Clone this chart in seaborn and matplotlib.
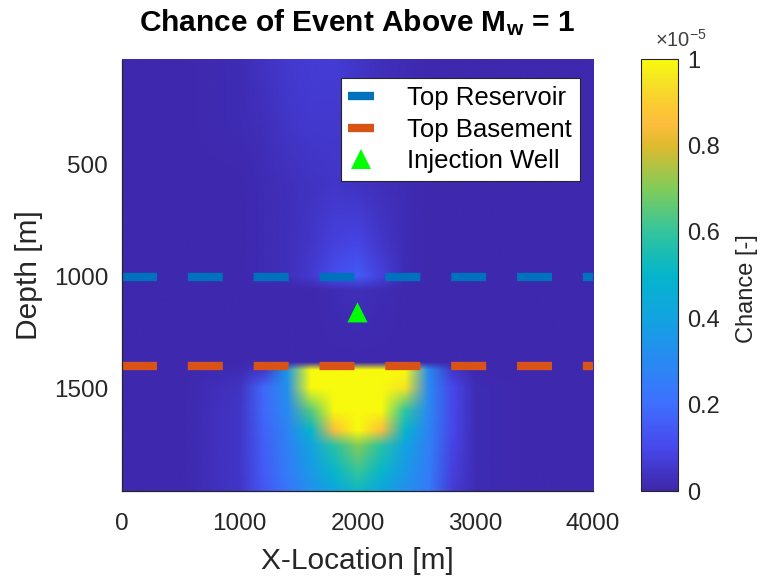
import numpy as np
import pandas as pd
import matplotlib
matplotlib.use("Agg")
import matplotlib.pyplot as plt
from matplotlib.colors import LinearSegmentedColormap, Normalize
from matplotlib.image import NonUniformImage
from matplotlib.lines import Line2D
import seaborn as sns

# sample locations of the chance field
x_m = [0, 500, 1000, 1200, 1400, 1600, 1800, 2000, 2200, 2400, 2600, 2800, 3000, 3500, 4000]
depth_m = [30, 300, 600, 850, 1000, 1060, 1385, 1420, 1500, 1600, 1690, 1760, 1880, 1960]

# chance of an event above Mw = 1, in units of 1e-5 (one row per depth)
chance_e5 = [
    [0.01, 0.01, 0.02, 0.04, 0.06, 0.07, 0.07, 0.05, 0.03, 0.02, 0.01, 0.01, 0.01, 0.01, 0.01],
    [0.01, 0.01, 0.02, 0.03, 0.05, 0.06, 0.06, 0.05, 0.03, 0.02, 0.01, 0.01, 0.01, 0.01, 0.01],
    [0.01, 0.01, 0.01, 0.02, 0.03, 0.04, 0.05, 0.04, 0.03, 0.02, 0.01, 0.01, 0.01, 0.01, 0.01],
    [0.01, 0.01, 0.01, 0.02, 0.03, 0.05, 0.08, 0.09, 0.05, 0.02, 0.01, 0.01, 0.01, 0.01, 0.01],
    [0.01, 0.01, 0.01, 0.02, 0.03, 0.06, 0.12, 0.15, 0.08, 0.02, 0.01, 0.01, 0.01, 0.01, 0.01],
    [0.01, 0.01, 0.01, 0.01, 0.01, 0.01, 0.02, 0.03, 0.02, 0.01, 0.01, 0.01, 0.01, 0.01, 0.01],
    [0.01, 0.01, 0.01, 0.01, 0.01, 0.01, 0.01, 0.01, 0.01, 0.01, 0.01, 0.01, 0.01, 0.01, 0.01],
    [0.01, 0.01, 0.02, 0.05, 0.35, 1.25, 1.40, 1.40, 1.40, 1.10, 0.30, 0.05, 0.01, 0.01, 0.01],
    [0.01, 0.01, 0.04, 0.18, 0.33, 1.05, 1.40, 1.40, 1.40, 0.95, 0.30, 0.10, 0.02, 0.01, 0.01],
    [0.01, 0.01, 0.05, 0.18, 0.30, 0.65, 1.25, 1.40, 1.25, 0.60, 0.30, 0.10, 0.02, 0.01, 0.01],
    [0.01, 0.01, 0.05, 0.17, 0.28, 0.50, 0.85, 1.05, 0.85, 0.50, 0.28, 0.10, 0.02, 0.01, 0.01],
    [0.01, 0.01, 0.05, 0.16, 0.27, 0.40, 0.58, 0.70, 0.58, 0.40, 0.27, 0.09, 0.02, 0.01, 0.01],
    [0.01, 0.01, 0.05, 0.15, 0.25, 0.36, 0.50, 0.60, 0.50, 0.36, 0.25, 0.08, 0.02, 0.01, 0.01],
    [0.01, 0.01, 0.05, 0.14, 0.22, 0.33, 0.42, 0.52, 0.42, 0.33, 0.24, 0.07, 0.02, 0.01, 0.01],
]

# horizons and well
horizon_names = ["Top Reservoir", "Top Basement"]
horizon_depths = [1000, 1400]
well_name = "Injection Well"
well_x = [2000]
well_depth = [1160]

x_ticks = [0, 1000, 2000, 3000, 4000]
depth_ticks = [500, 1000, 1500]
cbar_ticks = [0, 0.2, 0.4, 0.6, 0.8, 1.0]

sns.set_style("white")
plt.rcParams["font.family"] = ["Liberation Sans", "DejaVu Sans"]
plt.rcParams["mathtext.fontset"] = "custom"
plt.rcParams["mathtext.rm"] = "Liberation Sans"
plt.rcParams["mathtext.it"] = "Liberation Sans:italic"
plt.rcParams["mathtext.bf"] = "Liberation Sans:bold"

parula = LinearSegmentedColormap.from_list("parula", [
    (0.00, (0.2422, 0.1504, 0.6603)),
    (0.10, (0.2805, 0.2813, 0.9243)),
    (0.20, (0.2440, 0.4358, 0.9988)),
    (0.30, (0.1600, 0.5400, 0.9500)),
    (0.40, (0.0700, 0.6400, 0.8800)),
    (0.50, (0.0200, 0.7100, 0.8000)),
    (0.55, (0.1000, 0.7400, 0.7000)),
    (0.60, (0.2000, 0.7700, 0.6200)),
    (0.70, (0.5000, 0.8000, 0.3500)),
    (0.80, (0.8700, 0.7300, 0.1800)),
    (0.85, (0.9900, 0.7400, 0.2400)),
    (0.90, (0.9800, 0.8000, 0.1900)),
    (0.95, (0.9600, 0.8900, 0.1400)),
    (1.00, (0.9763, 0.9831, 0.0538)),
])

ink = "#262626"
blue = (0.0, 0.447, 0.741)
orange = (0.850, 0.325, 0.098)
green = (0.0, 1.0, 0.0)

fig = plt.figure(figsize=(7.61, 5.79), dpi=100)
ax = fig.add_axes([122 / 761, 88 / 579, 471 / 761, 431 / 579])

field = NonUniformImage(ax, interpolation="bilinear", cmap=parula,
                        norm=Normalize(vmin=0, vmax=1),
                        extent=(x_m[0], x_m[-1], depth_m[0], depth_m[-1]))
field.set_data(np.array(x_m, float), np.array(depth_m, float),
               np.array(chance_e5, float))
ax.add_image(field)

for name, depth, col in zip(horizon_names, horizon_depths, [blue, orange]):
    df = pd.DataFrame({"x": [x_m[0], x_m[-1]], "depth": [depth, depth]})
    sns.lineplot(data=df, x="x", y="depth", color=col, lw=6,
                 linestyle=(0, (4.2, 3.7)), dash_capstyle="butt", ax=ax)

well_df = pd.DataFrame({"x": well_x, "depth": well_depth})
sns.scatterplot(data=well_df, x="x", y="depth", marker="^", s=210,
                color=green, edgecolor="none", ax=ax, zorder=5)

ax.set_xlim(0, 4000)
ax.set_ylim(1960, 30)
ax.set_xticks(x_ticks)
ax.set_yticks(depth_ticks)
ax.set_xticklabels([str(v) for v in x_ticks])
ax.set_yticklabels([str(v) for v in depth_ticks])
ax.tick_params(axis="both", direction="in", length=5, width=0.8,
               colors=ink, labelsize=17.5)
ax.tick_params(axis="x", pad=16)
ax.tick_params(axis="y", pad=10)
for side in ["top", "right"]:
    ax.spines[side].set_visible(False)
for side in ["left", "bottom"]:
    ax.spines[side].set_color(ink)
    ax.spines[side].set_linewidth(0.9)

ax.set_xlabel("X-Location [m]", fontsize=21.5, color=ink)
ax.set_ylabel("Depth [m]", fontsize=21.5, color=ink)
ax.xaxis.set_label_coords(0.5, -0.13)
ax.yaxis.set_label_coords(-0.168, 0.5)
ax.set_title(r"Chance of Event Above M$_{\mathbf{w}}$ = 1", fontsize=21.5,
             fontweight="bold", color="black", pad=21)

handles = [
    Line2D([], [], color=blue, lw=6, solid_capstyle="butt"),
    Line2D([], [], color=orange, lw=6, solid_capstyle="butt"),
    Line2D([], [], color=green, marker="^", ms=14, lw=0, markeredgewidth=0),
]
leg = ax.legend(handles, horizon_names + [well_name], loc="upper right",
                bbox_to_anchor=(0.972, 0.958), borderaxespad=0, fontsize=18.5,
                handlelength=1.0, handletextpad=1.3, labelspacing=0.3,
                borderpad=0.3, fancybox=False, framealpha=1, edgecolor=ink)
leg.get_frame().set_linewidth(0.8)
for t in leg.get_texts():
    t.set_color("black")

cax = fig.add_axes([641 / 761, 88 / 579, 37 / 761, 432 / 579])
cb = fig.colorbar(field, cax=cax)
cb.set_ticks(cbar_ticks)
cb.set_ticklabels([f"{v:g}" for v in cbar_ticks])
cb.ax.tick_params(direction="in", length=4, width=0.8, colors=ink,
                  labelsize=17, pad=6.5)
cb.outline.set_edgecolor(ink)
cb.outline.set_linewidth(0.8)
cax.text(2.86, 0.468, "Chance [-]", rotation=90, va="center", ha="center",
         fontsize=17, color=ink, transform=cax.transAxes)
fig.text(655 / 761, 1 - 47 / 579, r"×10$^{-5}$", fontsize=14.5, color="#404040",
         ha="left", va="baseline")

fig.savefig("out.png", dpi=100)
